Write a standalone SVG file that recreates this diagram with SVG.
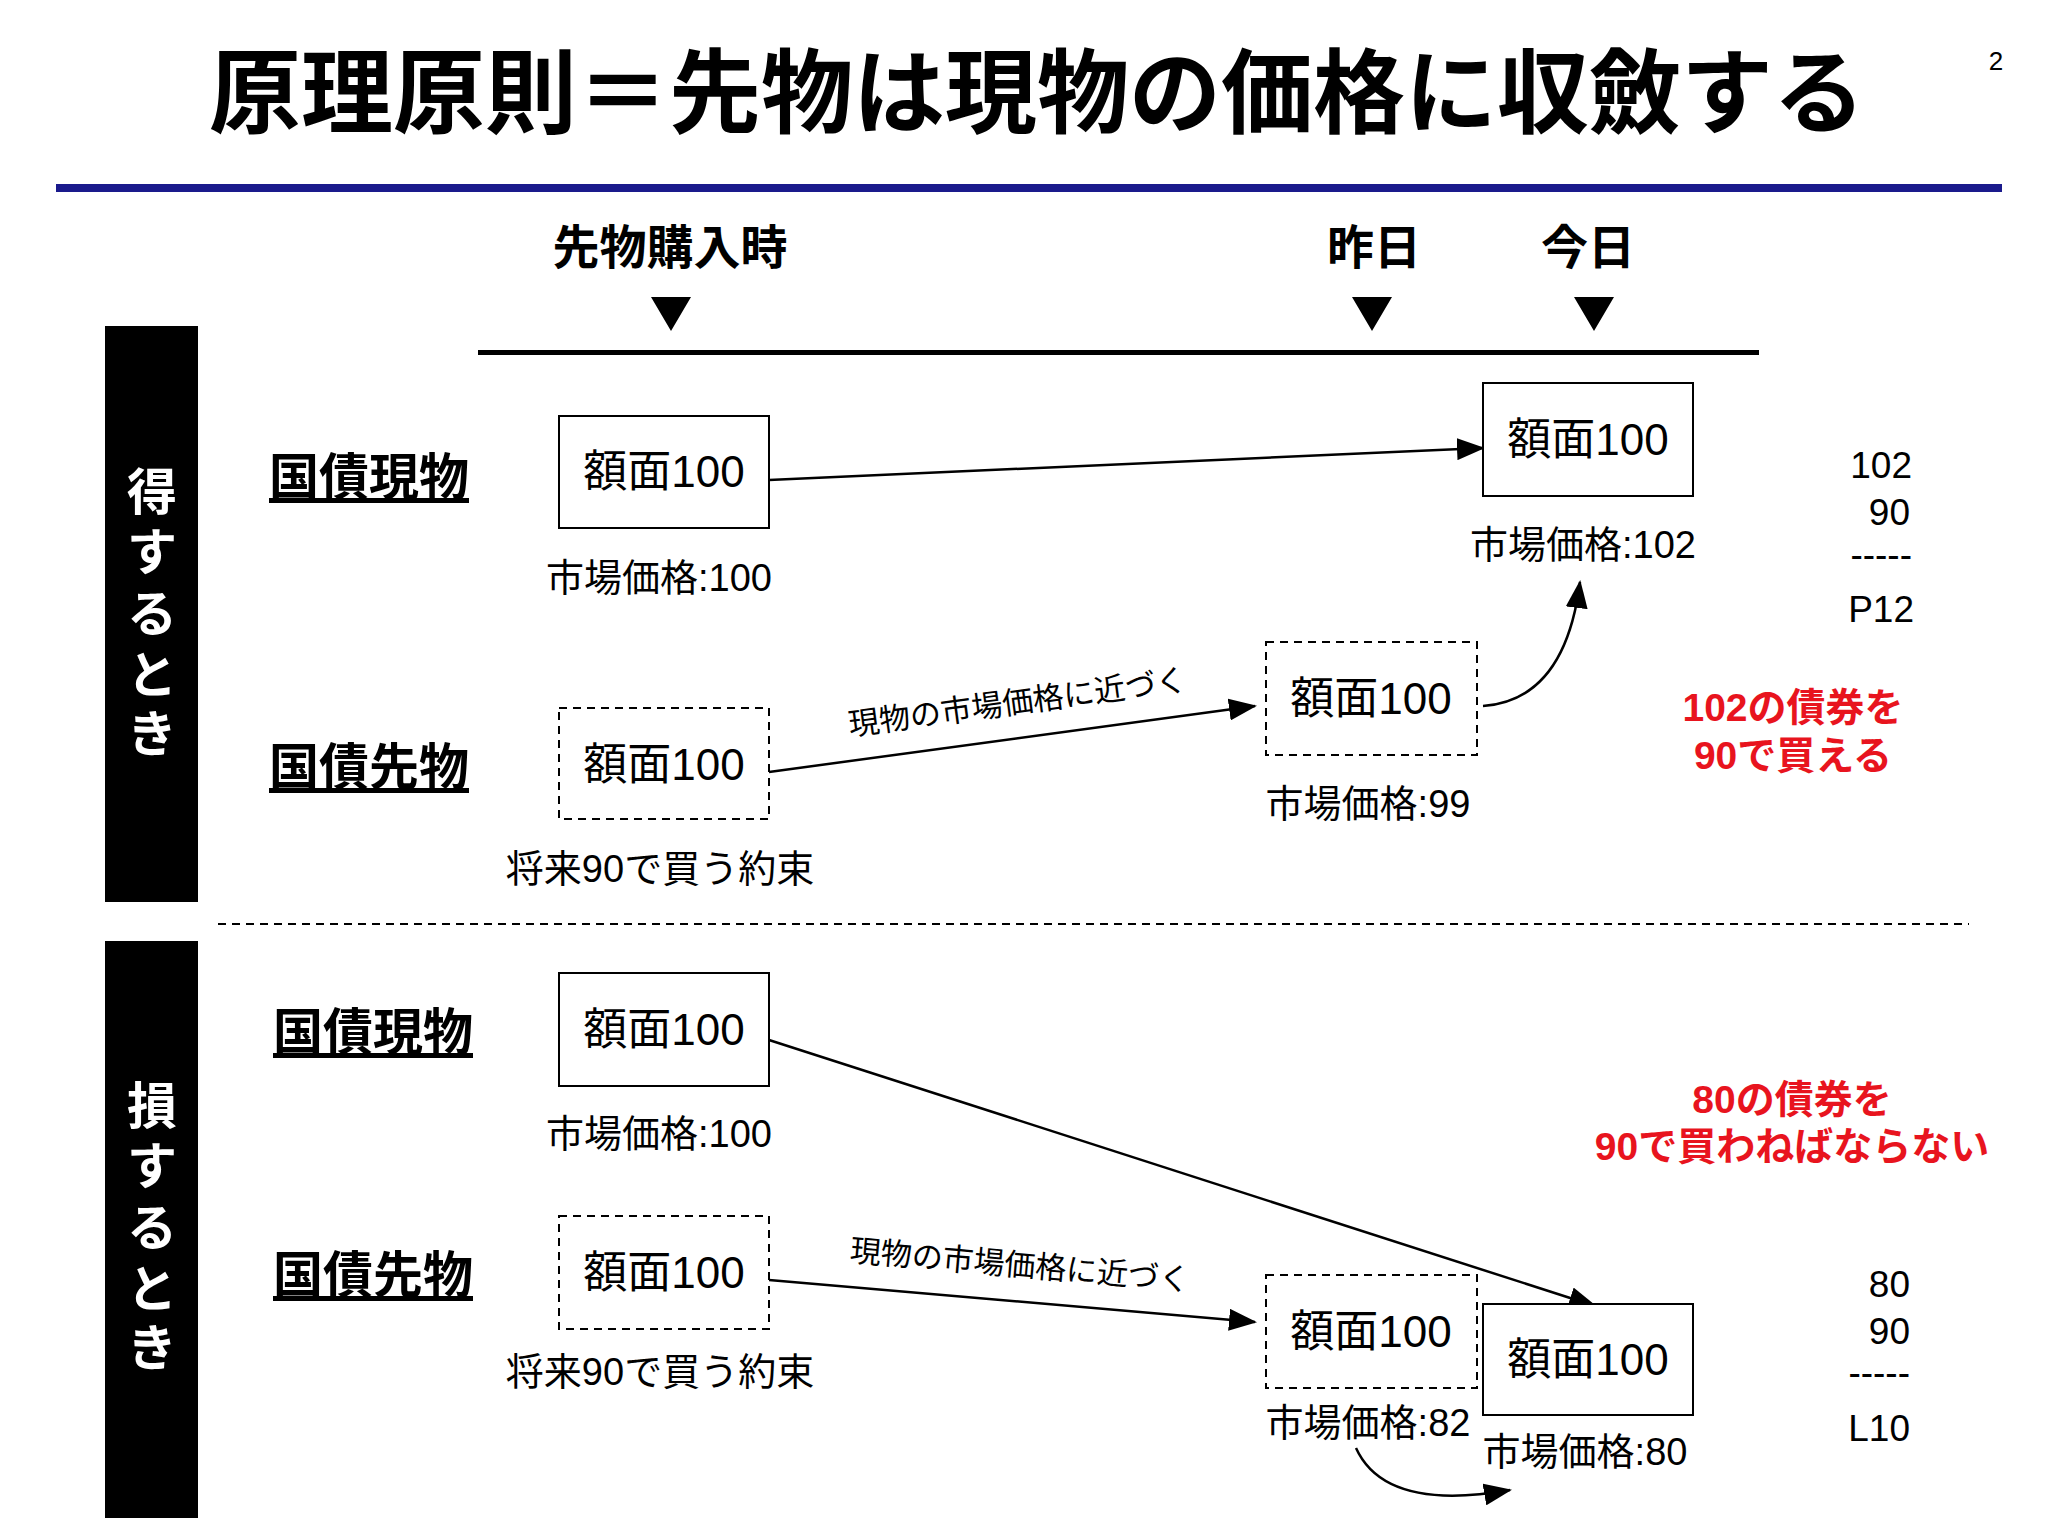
<svg xmlns="http://www.w3.org/2000/svg" width="2048" height="1536" viewBox="0 0 2048 1536">
<style>
text{font-family:"Liberation Sans","Noto Sans CJK JP",sans-serif;fill:#000}
.box{fill:#fff;stroke:#000;stroke-width:2}
.dash{stroke-dasharray:8 6}
.bt{font-size:44px;text-anchor:middle}
.sub{font-size:38px;text-anchor:middle}
.lab{font-size:50px;font-weight:bold;text-decoration:underline}
.hd{font-size:47px;font-weight:bold;text-anchor:middle}
.num{font-size:37px;text-anchor:end}
.red{font-size:39px;font-weight:bold;fill:#e8141e;text-anchor:middle}
.side{font-size:50px;font-weight:bold;fill:#fff;text-anchor:middle}
.cn{fill:none;stroke:#000;stroke-width:2.5}
.al{font-size:31px;text-anchor:middle}
</style>
<defs><marker id="ah" markerUnits="userSpaceOnUse" markerWidth="28" markerHeight="22" refX="26" refY="11" orient="auto"><path d="M0,0L28,11L0,22Z" fill="#000"/></marker></defs>
<rect width="2048" height="1536" fill="#fff"/>
<g id="title">
<text x="1037" y="126" font-size="92" font-weight="bold" text-anchor="middle">原理原則＝先物は現物の価格に収斂する</text>
<text x="1996" y="70" font-size="26" text-anchor="middle">2</text>
<rect x="56" y="184" width="1946" height="8" fill="#1a1a8c"/>
</g>
<g id="timeline">
<text class="hd" x="670" y="264">先物購入時</text>
<text class="hd" x="1374" y="264">昨日</text>
<text class="hd" x="1588" y="264">今日</text>
<path d="M651,297h40l-20,34z M1352,297h40l-20,34z M1574,297h40l-20,34z" fill="#000"/>
<rect x="478" y="350" width="1281" height="5" fill="#000"/>
</g>
<g id="side">
<rect x="105" y="326" width="93" height="576" fill="#000"/>
<text class="side" x="152" y="510">得</text><text class="side" x="152" y="570">す</text><text class="side" x="152" y="632">る</text><text class="side" x="152" y="693">と</text><text class="side" x="152" y="752">き</text>
<rect x="105" y="941" width="93" height="577" fill="#000"/>
<text class="side" x="152" y="1124">損</text><text class="side" x="152" y="1184">す</text><text class="side" x="152" y="1246">る</text><text class="side" x="152" y="1307">と</text><text class="side" x="152" y="1366">き</text>
<line x1="218" y1="924" x2="1969" y2="924" stroke="#000" stroke-width="2" stroke-dasharray="8 6"/>
</g>
<g id="labels">
<text class="lab" x="269" y="495">国債現物</text>
<text class="lab" x="269" y="785">国債先物</text>
<text class="lab" x="273" y="1050">国債現物</text>
<text class="lab" x="273" y="1293">国債先物</text>
</g>
<g id="connectors">
<line class="cn" x1="769" y1="480" x2="1483" y2="448" marker-end="url(#ah)"/>
<line class="cn" x1="769" y1="772" x2="1255" y2="706" marker-end="url(#ah)"/>
<path class="cn" d="M1483,706 Q1565,700 1580,582" marker-end="url(#ah)"/>
<line class="cn" x1="769" y1="1040" x2="1595" y2="1306" marker-end="url(#ah)"/>
<line class="cn" x1="769" y1="1280" x2="1255" y2="1322" marker-end="url(#ah)"/>
<path class="cn" d="M1356,1448 Q1385,1512 1510,1490" marker-end="url(#ah)"/>
<text class="al" transform="translate(1019,713) rotate(-7.7)">現物の市場価格に近づく</text>
<text class="al" transform="translate(1019,1276) rotate(5)">現物の市場価格に近づく</text>
</g>
<g id="nA"><rect class="box" x="559" y="416" width="210" height="112"/><text class="bt" x="664" y="487">額面100</text><text class="sub" x="659" y="591">市場価格:100</text></g>
<g id="nB"><rect class="box" x="1483" y="383" width="210" height="113"/><text class="bt" x="1588" y="455">額面100</text><text class="sub" x="1583" y="558">市場価格:102</text></g>
<g id="nC"><rect class="box dash" x="559" y="708" width="210" height="111"/><text class="bt" x="664" y="780">額面100</text><text class="sub" x="660" y="882">将来90で買う約束</text></g>
<g id="nD"><rect class="box dash" x="1266" y="642" width="211" height="113"/><text class="bt" x="1371" y="714">額面100</text><text class="sub" x="1368" y="817">市場価格:99</text></g>
<g id="nE"><rect class="box" x="559" y="973" width="210" height="113"/><text class="bt" x="664" y="1045">額面100</text><text class="sub" x="659" y="1147">市場価格:100</text></g>
<g id="nF"><rect class="box dash" x="559" y="1216" width="210" height="113"/><text class="bt" x="664" y="1288">額面100</text><text class="sub" x="660" y="1385">将来90で買う約束</text></g>
<g id="nG"><rect class="box dash" x="1266" y="1275" width="211" height="113"/><text class="bt" x="1371" y="1347">額面100</text><text class="sub" x="1368" y="1436">市場価格:82</text></g>
<g id="nH"><rect class="box" x="1483" y="1304" width="210" height="111"/><text class="bt" x="1588" y="1375">額面100</text><text class="sub" x="1585" y="1465">市場価格:80</text></g>
<g id="calc">
<text class="num" x="1912" y="478">102</text><text class="num" x="1910" y="525">90</text><text class="num" x="1912" y="567">-----</text><text class="num" x="1914" y="622">P12</text>
<text class="num" x="1910" y="1297">80</text><text class="num" x="1910" y="1344">90</text><text class="num" x="1910" y="1385">-----</text><text class="num" x="1910" y="1441">L10</text>
<text class="red" x="1793" y="721">102の債券を</text><text class="red" x="1793" y="769">90で買える</text>
<text class="red" x="1792" y="1113">80の債券を</text><text class="red" x="1792" y="1160">90で買わねばならない</text>
</g>
</svg>
